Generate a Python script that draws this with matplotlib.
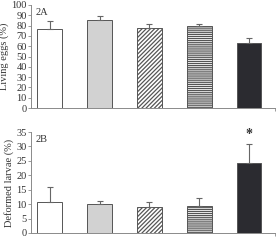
import numpy as np
import matplotlib
matplotlib.use("Agg")
import matplotlib.pyplot as plt

plt.rcParams['font.family'] = ['Liberation Serif', 'DejaVu Serif']
plt.rcParams['hatch.linewidth'] = 0.9

groups = [1, 2, 3, 4, 5]
eggs = [77, 85, 78, 80, 63]
eggs_err = [7, 4, 4, 2, 5]
larvae = [10.8, 10.0, 9.0, 9.4, 24.2]
larvae_err = [5.3, 1.2, 1.8, 2.7, 6.8]

faces = ['white', '#d2d2d2', 'white', 'white', '#2b2b30']
hatches = ['', '', '////////', '--------', '']
spine_col = '#8a8a8a'

fig = plt.figure(figsize=(2.76, 2.5), dpi=100)
ax1 = fig.add_axes([0.112, 0.568, 0.884, 0.412])
ax2 = fig.add_axes([0.112, 0.068, 0.884, 0.404])


def draw(ax, vals, errs, ymax, step, label, tag):
    x = np.array(groups)
    for xi, v, e, fc, h in zip(x, vals, errs, faces, hatches):
        ax.bar(xi, v, width=0.5, color=fc, edgecolor='#555555', hatch=h,
               linewidth=0.7, zorder=2)
        # only the upper half of the error bar
        ax.errorbar(xi, v, yerr=[[0], [e]], fmt='none', ecolor='#666666',
                    elinewidth=0.8, capsize=2, capthick=0.8, zorder=3)
    ax.set_xlim(0.62, 5.52)
    ax.set_ylim(0, ymax)
    ax.set_yticks(np.arange(0, ymax + 1, step))
    ax.set_xticks([5.52])
    ax.set_xticklabels([])
    ax.tick_params(axis='both', length=2, width=0.6, colors=spine_col,
                   labelcolor='#333333', labelsize=7.5, pad=1)
    for s in ['top', 'right']:
        ax.spines[s].set_visible(False)
    for s in ['left', 'bottom']:
        ax.spines[s].set_color(spine_col)
        ax.spines[s].set_linewidth(0.7)
    ax.set_ylabel(label, fontsize=7.5, color='#333333', labelpad=2)
    ax.text(0.02, 0.97, tag, transform=ax.transAxes, fontsize=7.5,
            color='#333333', va='top', ha='left')


draw(ax1, eggs, eggs_err, 100, 10, 'Living eggs (%)', '2A')
draw(ax2, larvae, larvae_err, 35, 5, 'Deformed larvae (%)', '2B')
ax2.text(groups[4], larvae[4] + larvae_err[4] + 1, '*', ha='center', va='bottom',
         fontsize=10, color='#333333', fontweight='bold')

fig.savefig('out.png', dpi=100)
